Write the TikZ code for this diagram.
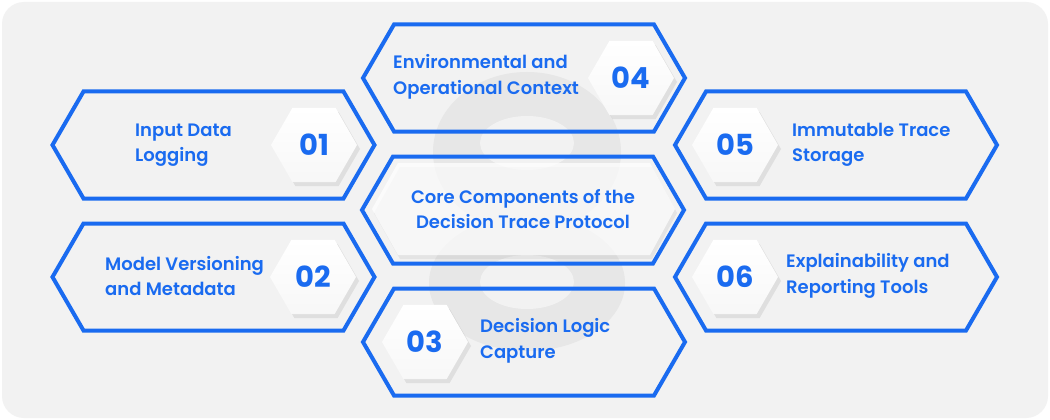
\documentclass[tikz,border=0pt]{standalone}
\usepackage{fontspec}
\setmainfont{Poppins SemiBold}
\newfontfamily\numfont{Poppins Bold}
\usetikzlibrary{shapes.geometric,shadows}
\definecolor{hexblue}{HTML}{1A6BF0}
\definecolor{bgcard}{HTML}{F2F2F2}
\definecolor{wmark}{HTML}{E7E7E7}
\tikzset{
  hexline/.style={draw=hexblue, line width=4pt, line join=miter},
  numhex/.style={regular polygon, regular polygon sides=6, minimum size=86pt,
    inner sep=0pt, top color=white, bottom color=gray!6, draw=none,
    drop shadow={opacity=0.16, shadow xshift=3pt, shadow yshift=-4pt},
    text=hexblue, font=\numfont\fontsize{29}{29}\selectfont},
  lbl/.style={text=hexblue, font=\fontsize{18}{25.5}\selectfont, align=left,
    inner sep=0pt, anchor=west},
}
\newcommand{\hexframe}[3]{%
  \draw[hexline] (#2-161,#3) -- (#2-130,#3-53.5) -- (#2+130,#3-53.5)
    -- (#2+161,#3) -- (#2+130,#3+53.5) -- (#2-130,#3+53.5) -- cycle;
  \coordinate (#1) at (#2,#3);}
\begin{document}
\begin{tikzpicture}[x=1pt,y=-1pt]
\useasboundingbox (0,0) rectangle (1050,420);
\fill[white] (0,0) rectangle (1050,420);
\fill[bgcard, rounded corners=22pt] (2,2) rectangle (1048,418);
% watermark 8
\fill[wmark] (527,152) ellipse [x radius=94, y radius=80];
\fill[wmark] (527,283) ellipse [x radius=98, y radius=68];
\fill[bgcard] (527,143) ellipse [x radius=47, y radius=27];
\fill[bgcard] (527,282) ellipse [x radius=47, y radius=27];
% hexagon frames
\hexframe{h1}{213.5}{145}
\hexframe{h2}{213.5}{277}
\hexframe{h4}{524}{78}
\hexframe{hc}{523}{210}
\hexframe{h3}{524}{342}
\hexframe{h5}{836}{145}
\hexframe{h6}{836}{277}
% centre inner panel
\path[fill=white, fill opacity=0.72,
  drop shadow={opacity=0.12, shadow xshift=2pt, shadow yshift=-4pt}]
  (372,209) -- (398,163) -- (650,163) -- (675,209) -- (650,255) -- (398,255) -- cycle;
\node[text=hexblue, font=\fontsize{18}{25.5}\selectfont, align=center, inner sep=0pt]
  (title) at (523,209) {Core Components of the\\Decision Trace Protocol};
% number hexagons
\node[numhex] (n1) at (314,145) {01};
\node[numhex] (n2) at (313,277) {02};
\node[numhex] (n4) at (631,78) {04};
\node[numhex] (n3) at (425,342) {03};
\node[numhex] (n5) at (735,145) {05};
\node[numhex] (n6) at (735,277) {06};
% labels
\node[lbl] (t1) at (135,145) {Input Data\\Logging};
\node[lbl] (t2) at (105,276) {Model Versioning\\and Metadata};
\node[lbl] (t4) at (393,77) {Environmental and\\Operational Context};
\node[lbl] (t3) at (480,341) {Decision Logic\\Capture};
\node[lbl] (t5) at (792,145) {Immutable Trace\\Storage};
\node[lbl] (t6) at (786,276) {Explainability and\\Reporting Tools};
\end{tikzpicture}
\end{document}
